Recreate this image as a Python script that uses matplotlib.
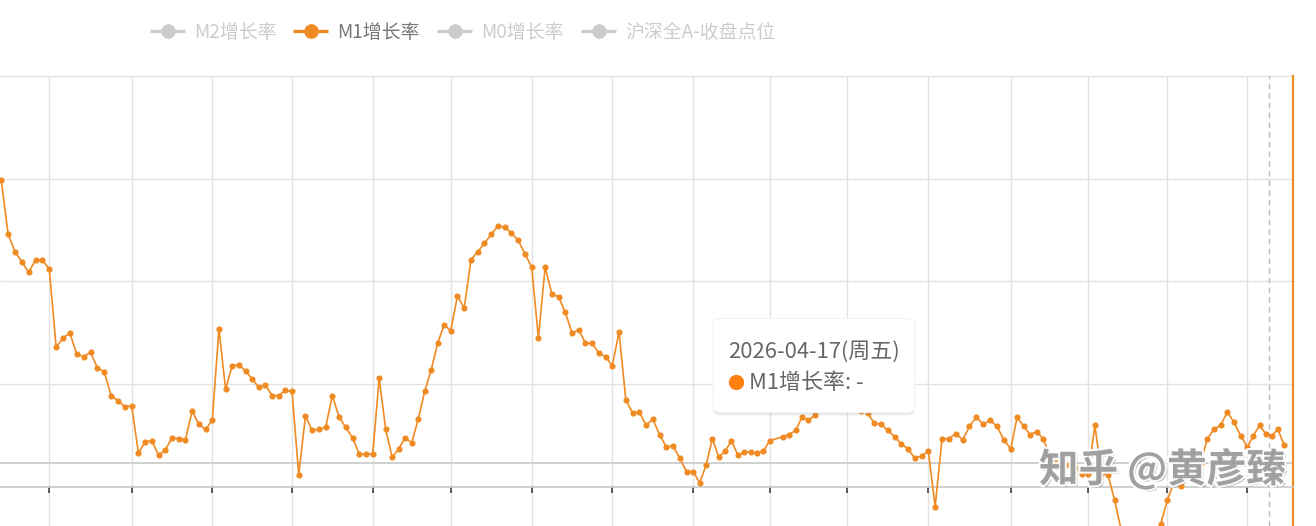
import matplotlib
matplotlib.use("Agg")
import numpy as np
import matplotlib.pyplot as plt
import matplotlib.patheffects as pe
from matplotlib.patches import FancyBboxPatch

plt.rcParams['font.family'] = ['Noto Sans CJK SC', 'DejaVu Sans']

# M1 同比增长率 (%), 月度, 2010-05 起; None = 缺失
start_year, start_month = 2010, 5
m1_growth = [
    29.9, 24.6, 22.9, 21.9, 20.9, 22.1, 22.1, 21.2,                       # 2010
    13.6, 14.5, 15.0, 12.9, 12.7, 13.1, 11.6, 11.2, 8.9, 8.4, 7.8, 7.9,   # 2011
    3.3, 4.4, 4.5, 3.1, 3.6, 4.8, 4.7, 4.6, 7.4, 6.1, 5.6, 6.5,           # 2012
    15.4, 9.5, 11.8, 11.9, 11.3, 10.5, 9.7, 9.9, 8.9, 8.9, 9.4, 9.3,      # 2013
    1.2, 6.9, 5.5, 5.6, 5.8, 8.9, 6.8, 5.8, 4.8, 3.2, 3.2, 3.2,           # 2014
    10.6, 5.6, 2.9, 3.7, 4.8, 4.3, 6.6, 9.3, 11.4, 14.0, 15.8, 15.2,      # 2015
    18.6, 17.4, 22.1, 22.9, 23.7, 24.6, 25.4, 25.3, 24.7, 24.0, 22.7, 21.4,  # 2016
    14.5, 21.4, 18.8, 18.5, 17.0, 15.0, 15.3, 14.0, 14.0, 13.0, 12.7, 11.8,  # 2017
    15.1, 8.5, 7.2, 7.3, 6.0, 6.6, 5.1, 3.9, 4.0, 2.8, 1.5, 1.5,          # 2018
    0.4, 2.1, 4.7, 2.9, 3.5, 4.5, 3.1, 3.4, 3.4, 3.3, 3.5, 4.5,           # 2019
    None, 4.9, 5.1, 5.5, 6.8, 6.5, 7.0, 8.0, 8.1, 9.1, 10.0, 8.6,         # 2020
    14.7, 7.4, 7.2, 6.2, 6.1, 5.5, 4.9, 4.2, 3.7, 2.8, 3.0, 3.5,          # 2021
    -1.9, 4.7, 4.7, 5.2, 4.6, 5.9, 6.8, 6.1, 6.5, 5.9, 4.6, 3.7,          # 2022
    6.8, 5.9, 5.1, 5.4, 4.7, 3.2, 2.3, 2.2, 2.1, 1.9, 1.3, 1.3,           # 2023
    6.0, 1.3, 1.2, -1.3, -4.2, -5.0, -6.6, -7.3, -7.4, -6.1, -3.6, -1.3,  # 2024
    0.5, 0.1, 1.6, 1.5, 2.3, 4.7, 5.6, 6.0, 7.3, 6.3, 5.0, 3.9,           # 2025
    5.0, 6.0, 5.2, 5.0, 5.6, 4.1,                                         # 2026
]
year_ticks = list(range(2011, 2027))
y_grid = [0, 10, 20, 30, 40]
legend_names = ['M2增长率', 'M1增长率', 'M0增长率', '沪深全A-收盘点位']
legend_active = [False, True, False, False]
tip_date = '2026-04-17(周五)'
tip_label = 'M1增长率: -'
tip_x = 2026 + 106 / 365
watermark = '知乎 @黄彦臻'

orange = '#f08a22'
grid_c = '#e2e2e2'

# the x axis is not uniform in time (category axis of all dates):
# pixel position of each Jan 1, used as a piecewise-linear scale
knot_year = [2010] + year_ticks + [2027]
knot_px = [-33.1, 49.3, 131.7, 212.3, 292.0, 372.7, 450.7, 531.7, 612.3, 693.3,
           769.7, 847.3, 928.3, 1010.7, 1088.3, 1167.3, 1247.3, 1320.7]


def fwd(x):
    return np.interp(x, knot_year, knot_px)


def inv(p):
    return np.interp(p, knot_px, knot_year)


# month-end positions in fractional years
xs, ys = [], []
for i, v in enumerate(m1_growth):
    m = start_month - 1 + i
    x = start_year + m // 12 + (m % 12 + 1) / 12
    if v is not None:
        xs.append(x)
        ys.append(v)

W, H = 1316, 526
fig = plt.figure(figsize=(W / 100, H / 100), dpi=100)
fig.patch.set_facecolor('white')

ax = fig.add_axes([0, 0, 1293.3 / W, 450 / H])
ax.set_xscale('function', functions=(fwd, inv))
x_left, x_right = float(inv(0.0)), float(inv(1293.3))
ax.set_xlim(x_left, x_right)
ax.set_ylim(-3.796, 40)
for s in ['top', 'left', 'right']:
    ax.spines[s].set_visible(False)
ax.spines['bottom'].set_position(('data', 0))
ax.spines['bottom'].set_color('#c8c8c8')
ax.spines['bottom'].set_linewidth(1.2)
ax.set_yticks([])
ax.set_xticks(year_ticks + [x_right])
ax.xaxis.set_minor_locator(plt.NullLocator())
ax.tick_params(axis='x', direction='out', length=4.5, width=1.1, color='#333333',
               labelbottom=False)

ax.vlines(year_ticks, -3.796, 40, color=grid_c, lw=1, zorder=0)
ax.hlines(y_grid[1:], x_left, x_right, color=grid_c, lw=1, zorder=0, clip_on=False)
ax.axhline(2.34, color='#cccccc', lw=1.3, zorder=0)
ax.axvline(tip_x, color='#bbbbbb', lw=1, ls=(0, (4, 3)), zorder=1)
ax.axvline(x_right, color=orange, lw=1.6, zorder=2, clip_on=False)

ax.plot(xs, ys, color=orange, lw=1.2, marker='o', ms=3.4, mec=orange, mfc=orange, zorder=3)

# overlay in pixel coordinates for legend / tooltip / watermark
ov = fig.add_axes([0, 0, 1, 1])
ov.set_xlim(0, W)
ov.set_ylim(H, 0)
ov.axis('off')
ov.patch.set_alpha(0)

lx = [150, 293, 437, 581]
for x0, name, act in zip(lx, legend_names, legend_active):
    c = orange if act else '#cccccc'
    ov.plot([x0, x0 + 35], [31, 31], color=c, lw=2.4, solid_capstyle='butt')
    ov.plot([x0 + 17.5], [31], 'o', color=c, ms=9.5)
    ov.text(x0 + 44, 32, name, color='#777777' if act else '#cccccc',
            fontsize=13.6, va='center', ha='left')

box = FancyBboxPatch((713, 318.5), 202, 94, boxstyle='round,pad=0,rounding_size=7',
                     fc='white', ec='#f2f2f2', lw=0.8, zorder=5,
                     path_effects=[pe.SimplePatchShadow(offset=(0, -2), shadow_rgbFace='#888888',
                                                        alpha=0.18), pe.Normal()])
ov.add_patch(box)
ov.text(728, 352, tip_date, fontsize=15.8, color='#666666', va='center', ha='left', zorder=6)
ov.plot([735.5], [382], 'o', color='#ff7f0e', ms=10, zorder=6)
ov.text(749, 383, tip_label, fontsize=15.8, color='#666666', va='center', ha='left', zorder=6)

ov.text(1039, 470, watermark, fontsize=28.5, color='#9c9c9c', fontweight='bold',
        va='center', ha='left', zorder=7, alpha=0.95,
        path_effects=[pe.SimplePatchShadow(offset=(1.5, -1.5), shadow_rgbFace='#444444', alpha=0.45),
                      pe.Stroke(linewidth=3, foreground='white'), pe.Normal()])

fig.savefig('out.png', dpi=100, facecolor='white')
